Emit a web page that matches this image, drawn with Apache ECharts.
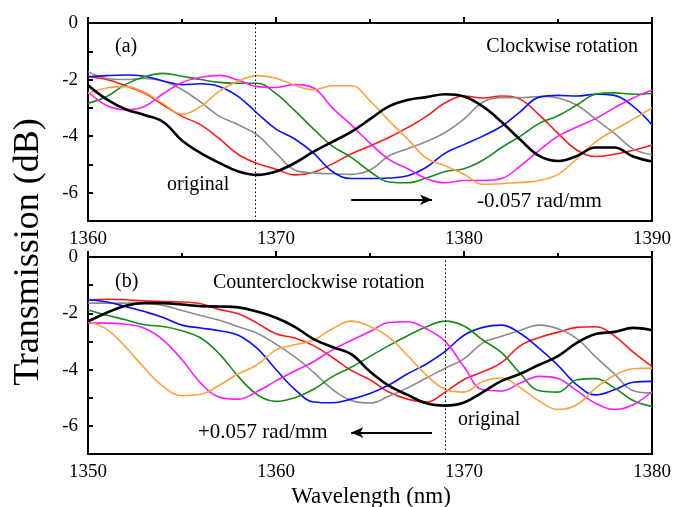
<!DOCTYPE html>
<html>
<head>
<meta charset="utf-8">
<script src="https://cdn.jsdelivr.net/npm/echarts@6/dist/echarts.min.js"></script>
<style>html,body{margin:0;padding:0;background:#fff}#c{width:675px;height:507px}</style>
</head>
<body>
<div id="c"></div>
<script>
// Panel (a): clockwise rotation, wavelengths 1360-1390 nm
var A_WL = [1360,1361,1362,1363,1364,1365,1366,1367,1368,1369,1370,1371,1372,1373,1374,1375,1376,1377,1378,1379,1380,1381,1382,1383,1384,1385,1386,1387,1388,1389,1390];
var A_black   = [-2.2,-2.7,-3.05,-3.25,-3.5,-4.15,-4.6,-4.95,-5.25,-5.37,-5.25,-4.95,-4.55,-4.2,-3.85,-3.4,-2.95,-2.72,-2.62,-2.52,-2.6,-2.95,-3.5,-4.13,-4.7,-4.88,-4.7,-4.4,-4.4,-4.72,-4.9];
var A_red     = [-1.9,-2.0,-2.22,-2.48,-2.9,-3.3,-3.6,-4.1,-4.65,-4.97,-5.17,-5.37,-5.28,-4.98,-4.63,-4.35,-4.05,-3.7,-3.3,-2.82,-2.58,-2.65,-2.58,-2.7,-3.25,-3.9,-4.49,-4.72,-4.64,-4.5,-4.31];
var A_gray    = [-1.72,-1.96,-2.0,-1.96,-2.05,-2.35,-2.8,-3.3,-3.6,-3.96,-4.6,-5.2,-5.3,-5.33,-5.35,-5.2,-4.7,-4.45,-4.19,-3.87,-3.4,-2.8,-2.64,-2.64,-2.6,-2.65,-2.9,-3.4,-3.9,-4.45,-4.66];
var A_blue    = [-1.9,-1.86,-1.84,-1.88,-2.05,-2.18,-2.15,-2.25,-2.6,-3.19,-3.75,-4.1,-4.6,-5.25,-5.5,-5.5,-5.48,-5.4,-5.1,-4.6,-4.3,-4.0,-3.65,-3.13,-2.62,-2.56,-2.58,-2.52,-2.56,-2.95,-3.6];
var A_green   = [-2.84,-2.6,-2.17,-1.9,-1.78,-1.88,-2.0,-2.1,-2.13,-2.13,-2.5,-3.1,-3.75,-4.35,-4.75,-5.25,-5.62,-5.65,-5.48,-5.25,-5.15,-4.85,-4.4,-4.0,-3.55,-3.28,-2.9,-2.52,-2.47,-2.52,-2.49];
var A_magenta = [-2.43,-2.92,-3.07,-2.95,-2.5,-2.1,-1.92,-1.85,-2.02,-2.25,-2.28,-2.18,-2.3,-3.0,-3.6,-4.25,-4.82,-5.15,-5.5,-5.65,-5.57,-5.57,-5.5,-5.05,-4.5,-4.0,-3.68,-3.38,-3.0,-2.65,-2.37];
var A_orange  = [-2.49,-2.3,-2.25,-2.45,-2.85,-3.22,-2.95,-2.4,-2.05,-1.86,-1.95,-2.2,-2.36,-2.22,-2.22,-2.75,-3.45,-4.1,-4.78,-5.05,-5.35,-5.7,-5.68,-5.64,-5.57,-5.35,-4.8,-4.2,-3.78,-3.4,-3.0];

// Panel (b): counterclockwise rotation, wavelengths 1350-1380 nm
var B_WL = [1350,1351,1352,1353,1354,1355,1356,1357,1358,1359,1360,1361,1362,1363,1364,1365,1366,1367,1368,1369,1370,1371,1372,1373,1374,1375,1376,1377,1378,1379,1380];
var B_black   = [-2.29,-1.98,-1.73,-1.64,-1.64,-1.69,-1.75,-1.76,-1.79,-1.94,-2.16,-2.48,-2.92,-3.2,-3.45,-4.07,-4.57,-4.9,-5.2,-5.28,-5.17,-4.8,-4.4,-4.15,-3.83,-3.52,-3.05,-2.74,-2.66,-2.52,-2.6];
var B_red     = [-1.52,-1.5,-1.52,-1.56,-1.58,-1.6,-1.66,-1.87,-2.02,-2.35,-2.73,-2.88,-3.15,-3.57,-4.03,-4.36,-4.8,-5.05,-5.15,-4.8,-4.35,-4.08,-3.75,-3.15,-2.86,-2.67,-2.5,-2.48,-2.8,-3.38,-3.89];
var B_gray    = [-1.64,-1.64,-1.64,-1.64,-1.72,-1.9,-2.08,-2.25,-2.48,-2.71,-3.1,-3.55,-4.1,-4.7,-5.1,-5.19,-4.95,-4.65,-4.3,-3.95,-3.62,-3.05,-2.82,-2.6,-2.42,-2.55,-2.9,-3.55,-4.15,-4.75,-4.83];
var B_blue    = [-1.52,-1.6,-1.76,-1.94,-2.15,-2.42,-2.52,-2.62,-2.78,-3.25,-4.0,-4.7,-5.15,-5.18,-5.05,-4.85,-4.55,-4.15,-3.8,-3.35,-2.78,-2.5,-2.42,-2.72,-3.25,-3.85,-4.54,-4.9,-4.72,-4.45,-4.42];
var B_green   = [-1.88,-2.07,-2.23,-2.41,-2.47,-2.62,-2.88,-3.45,-4.25,-4.89,-5.13,-5.0,-4.7,-4.25,-3.92,-3.53,-3.15,-2.8,-2.48,-2.28,-2.45,-2.95,-3.4,-4.15,-4.75,-4.8,-4.36,-4.32,-4.65,-5.1,-5.31];
var B_magenta = [-2.35,-2.35,-2.39,-2.53,-2.95,-3.65,-4.48,-4.98,-5.05,-4.78,-4.4,-4.05,-3.72,-3.3,-2.97,-2.65,-2.33,-2.3,-2.55,-3.0,-3.9,-4.72,-4.76,-4.48,-4.24,-4.32,-4.75,-5.2,-5.42,-5.25,-4.78];
var B_orange  = [-2.29,-2.57,-3.2,-3.95,-4.6,-4.93,-4.88,-4.55,-4.15,-3.83,-3.3,-3.12,-2.95,-2.55,-2.28,-2.47,-2.85,-3.5,-4.2,-4.7,-4.8,-4.42,-4.3,-4.65,-5.12,-5.42,-5.25,-4.66,-4.2,-3.97,-3.95];

var COLORS = {black:'#000000', red:'#ff1a1a', gray:'#8c8c8c', blue:'#0a10ff', green:'#178a17', magenta:'#ff1aff', orange:'#f9a33e'};
var ORIGINAL_WL_A = 1368.9;
var ORIGINAL_WL_B = 1369;
var FONT = '"Liberation Serif","Times New Roman",serif';

function pairs(xs, ys){ return xs.map(function(x,i){ return [x, ys[i]]; }); }

function xAxisFor(gi, min, max){
  return {
    type:'value', gridIndex:gi, min:min, max:max, interval:10,
    axisLine:{show:true, lineStyle:{color:'#000', width:2}},
    axisTick:{show:true, inside:true, length:6, lineStyle:{color:'#000', width:2}},
    minorTick:{show:true, splitNumber:2, length:4, lineStyle:{color:'#000', width:2}},
    splitLine:{show:false},
    axisLabel:{color:'#000', fontFamily:FONT, fontSize:19, margin:9,
      formatter:function(v){ return String(Math.round(v)); }}
  };
}
function yAxisFor(gi){
  return {
    type:'value', gridIndex:gi, min:-7, max:0, interval:1,
    axisLine:{show:true, lineStyle:{color:'#000', width:2}},
    axisTick:{show:true, inside:true, length:5, lineStyle:{color:'#000', width:2}},
    splitLine:{show:false},
    axisLabel:{color:'#000', fontFamily:FONT, fontSize:19, margin:10,
      formatter:function(v){ return (Math.round(v) % 2 === 0) ? String(v) : ''; }}
  };
}

function lineSeries(gi, xs, ys, color, width, extra){
  var s = {
    type:'line', xAxisIndex:gi, yAxisIndex:gi, data:pairs(xs, ys),
    smooth:0.4, showSymbol:false, symbol:'none', silent:true,
    lineStyle:{color:color, width:width}, itemStyle:{color:color}, z:width>2?5:3
  };
  if (extra) for (var k in extra) s[k] = extra[k];
  return s;
}

var names = ['red','gray','blue','green','magenta','orange'];
var A_sets = {red:A_red, gray:A_gray, blue:A_blue, green:A_green, magenta:A_magenta, orange:A_orange};
var B_sets = {red:B_red, gray:B_gray, blue:B_blue, green:B_green, magenta:B_magenta, orange:B_orange};

var series = [];
names.forEach(function(n){ series.push(lineSeries(0, A_WL, A_sets[n], COLORS[n], 1.6)); });
series.push(lineSeries(0, A_WL, A_black, COLORS.black, 2.6, {
  markLine:{ silent:true, symbol:['none','none'], animation:false, label:{show:false},
    data:[
      {xAxis:ORIGINAL_WL_A, lineStyle:{color:'#000', width:1, type:[1.5,2.5]}},
      [{coord:[1374.0,-6.25], symbol:'none', lineStyle:{color:'#000', width:1.8, type:'solid'}},
       {coord:[1378.3,-6.25], symbol:'arrow', symbolSize:[8,12]}]
    ]}
}));
names.forEach(function(n){ series.push(lineSeries(1, B_WL, B_sets[n], COLORS[n], 1.6)); });
series.push(lineSeries(1, B_WL, B_black, COLORS.black, 2.6, {
  markLine:{ silent:true, symbol:['none','none'], animation:false, label:{show:false},
    data:[
      {xAxis:ORIGINAL_WL_B, lineStyle:{color:'#000', width:1, type:[1.5,2.5]}},
      [{coord:[1368.3,-6.24], symbol:'none', lineStyle:{color:'#000', width:1.8, type:'solid'}},
       {coord:[1364.0,-6.24], symbol:'arrow', symbolSize:[8,12]}]
    ]}
}));

function txt(x, y, s, size, align, extra){
  var e = {type:'text', x:x, y:y, z:100, style:{text:s, font:size+'px '+FONT, fill:'#000', textAlign:align||'left', textVerticalAlign:'middle'}};
  if (extra) for (var k in extra) e[k] = extra[k];
  return e;
}

var chart = echarts.init(document.getElementById('c'), null, {renderer:'canvas'});
chart.setOption({
  animation:false,
  backgroundColor:'#fff',
  grid:[
    {left:88, top:23, width:564, height:198, show:true, borderColor:'#000', borderWidth:2, outerBoundsMode:'none'},
    {left:88, top:257, width:564, height:197, show:true, borderColor:'#000', borderWidth:2, outerBoundsMode:'none'}
  ],
  xAxis:[xAxisFor(0, 1360, 1390), xAxisFor(1, 1350, 1380)],
  yAxis:[yAxisFor(0), yAxisFor(1)],
  series:series,
  graphic:[
    txt(115, 47, '(a)', 20),
    txt(638, 47, 'Clockwise rotation', 20, 'right'),
    txt(167, 185, 'original', 20),
    txt(477, 201, '-0.057 rad/mm', 21),
    txt(115, 282, '(b)', 20),
    txt(213, 283, 'Counterclockwise rotation', 20),
    txt(198, 432, '+0.057 rad/mm', 21),
    txt(458, 420, 'original', 20),
    txt(371, 497, 'Wavelength (nm)', 23, 'center'),
    txt(29, 252, 'Transmission (dB)', 36, 'center', {rotation:Math.PI/2})
  ]
});
</script>
</body>
</html>
